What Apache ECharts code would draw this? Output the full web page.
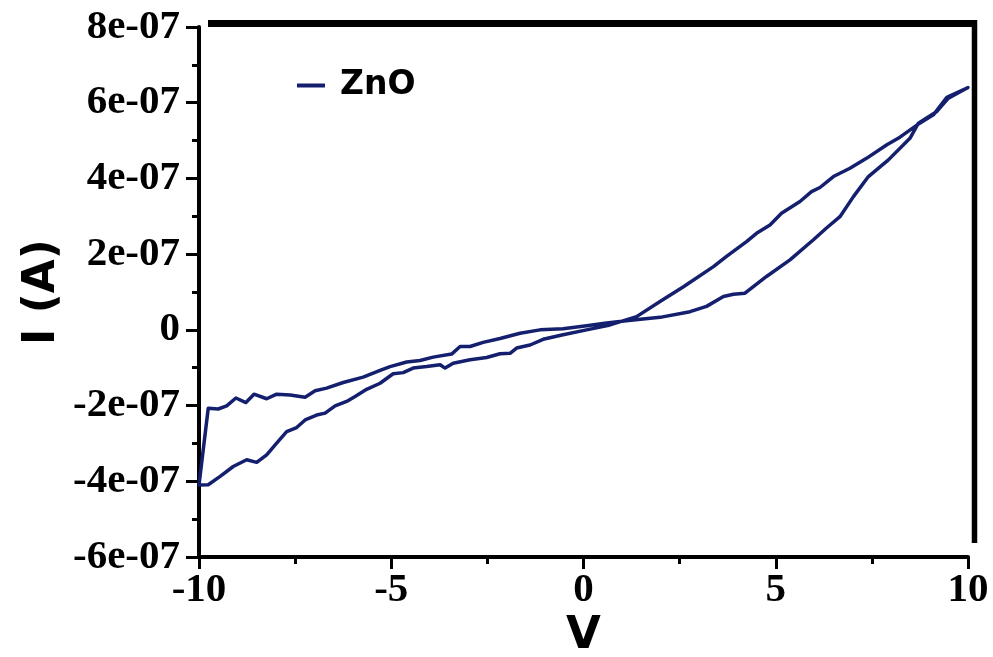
<!DOCTYPE html>
<html>
<head>
<meta charset="utf-8">
<script src="https://cdn.jsdelivr.net/npm/echarts@6/dist/echarts.min.js"></script>
<style>html,body{margin:0;padding:0;background:#fff}#chart{width:993px;height:657px}</style>
</head>
<body>
<div id="chart"></div>
<script>
// Sweep voltage (V) and measured current (A), in sweep order (closed hysteresis loop)
const voltage = [
  -10, -9.76, -9.50, -9.28, -9.04, -8.78, -8.57, -8.24, -7.98, -7.63,
  -7.24, -6.98, -6.68, -6.25, -5.73, -5.29, -5.03, -4.60, -4.25, -3.91,
  -3.43, -3.21, -2.95, -2.61, -2.17, -1.65, -1.13, -0.53, 0.08, 0.60,
  1.17, 1.99, 2.77, 3.20, 3.64, 3.90, 4.20, 4.76, 5.37, 5.98,
  6.32, 6.67, 7.02, 7.41, 7.93, 8.49, 8.71, 9.19, 9.49, 10.0,
  9.45, 9.10, 8.67, 8.23, 7.89, 7.36, 6.93, 6.50, 6.15, 5.93,
  5.63, 5.15, 4.85, 4.50, 4.24, 3.72, 3.38, 2.60, 1.99, 1.38,
  0.69, 0.08, -0.53, -1.05, -1.39, -1.74, -1.91, -2.17, -2.52, -2.95,
  -3.39, -3.60, -3.73, -4.08, -4.43, -4.69, -4.95, -5.29, -5.64, -5.94,
  -6.16, -6.46, -6.72, -6.94, -7.24, -7.46, -7.72, -7.98, -8.24, -8.50,
  -8.76, -9.11, -9.45, -9.76, -10
];
const current = [
  -4.10e-7, -2.07e-7, -2.09e-7, -2.01e-7, -1.80e-7, -1.92e-7, -1.70e-7, -1.82e-7, -1.70e-7, -1.72e-7,
  -1.78e-7, -1.61e-7, -1.54e-7, -1.39e-7, -1.25e-7, -1.07e-7, -0.97e-7, -0.85e-7, -0.81e-7, -0.72e-7,
  -0.64e-7, -0.44e-7, -0.44e-7, -0.33e-7, -0.23e-7, -0.09e-7, 0.00e-7, 0.03e-7, 0.11e-7, 0.18e-7,
  0.25e-7, 0.33e-7, 0.48e-7, 0.62e-7, 0.88e-7, 0.94e-7, 0.97e-7, 1.41e-7, 1.85e-7, 2.38e-7,
  2.69e-7, 2.99e-7, 3.52e-7, 4.05e-7, 4.49e-7, 5.06e-7, 5.46e-7, 5.77e-7, 6.12e-7, 6.40e-7,
  6.14e-7, 5.68e-7, 5.41e-7, 5.09e-7, 4.89e-7, 4.53e-7, 4.27e-7, 4.05e-7, 3.76e-7, 3.65e-7,
  3.39e-7, 3.08e-7, 2.77e-7, 2.55e-7, 2.33e-7, 1.94e-7, 1.67e-7, 1.14e-7, 0.75e-7, 0.35e-7,
  0.13e-7, 0.00e-7, -0.13e-7, -0.25e-7, -0.40e-7, -0.48e-7, -0.62e-7, -0.63e-7, -0.73e-7, -0.79e-7,
  -0.88e-7, -1.01e-7, -0.92e-7, -0.97e-7, -1.01e-7, -1.13e-7, -1.16e-7, -1.41e-7, -1.57e-7, -1.76e-7,
  -1.89e-7, -2.01e-7, -2.20e-7, -2.25e-7, -2.38e-7, -2.58e-7, -2.69e-7, -2.99e-7, -3.30e-7, -3.50e-7,
  -3.43e-7, -3.61e-7, -3.87e-7, -4.09e-7, -4.10e-7
];
const seriesName = 'ZnO';
const xTickValues = [-10, -5, 0, 5, 10];
const xTickLabels = ['-10', '-5', '0', '5', '10'];
const yTickValues = [-6e-7, -4e-7, -2e-7, 0, 2e-7, 4e-7, 6e-7, 8e-7];
const yTickLabels = ['-6e-07', '-4e-07', '-2e-07', '0', '2e-07', '4e-07', '6e-07', '8e-07'];

function lookup(values, labels, v) {
  let best = 0, bd = Infinity;
  values.forEach((t, i) => { const d = Math.abs(t - v); if (d < bd) { bd = d; best = i; } });
  return labels[best];
}

const lineColor = '#141f6e';
const tickFont = { fontFamily: 'Liberation Serif', fontWeight: 'bold', fontSize: 41, color: '#000' };

const chart = echarts.init(document.getElementById('chart'), null, { renderer: 'canvas' });
chart.setOption({
  animation: false,
  backgroundColor: '#fff',
  grid: { left: 199, right: 25, top: 27, bottom: 100, containLabel: false, outerBoundsMode: 'none' },
  legend: {
    data: [{ name: seriesName, icon: 'rect' }],
    left: 292, top: 64,
    itemWidth: 28, itemHeight: 4,
    itemStyle: { color: lineColor },
    textStyle: { fontFamily: 'DejaVu Sans', fontWeight: 'bold', fontSize: 33, color: '#000', padding: [0, 0, 0, 10] }
  },
  xAxis: {
    type: 'value', min: -10, max: 10, interval: 5,
    name: 'V', nameLocation: 'middle', nameGap: 57, nameMoveOverlap: false,
    nameTextStyle: { fontFamily: 'DejaVu Sans', fontWeight: 'bold', fontSize: 45, color: '#000', verticalAlign: 'top', lineHeight: 45 },
    axisLine: { show: true, onZero: false, lineStyle: { color: '#000', width: 4 } },
    axisTick: { show: true, inside: false, length: 12, lineStyle: { color: '#000', width: 3 } },
    minorTick: { show: true, splitNumber: 2, length: 7, lineStyle: { color: '#000', width: 3 } },
    splitLine: { show: false },
    axisLabel: Object.assign({ margin: 13, formatter: v => lookup(xTickValues, xTickLabels, v) }, tickFont)
  },
  yAxis: {
    type: 'value', min: -6e-7, max: 8e-7, interval: 2e-7,
    name: 'I (A)', nameLocation: 'middle', nameGap: 134, nameRotate: 90, nameMoveOverlap: false,
    nameTextStyle: { fontFamily: 'DejaVu Sans', fontWeight: 'bold', fontSize: 44, color: '#000' },
    axisLine: { show: true, onZero: false, lineStyle: { color: '#000', width: 4 } },
    axisTick: { show: true, inside: false, length: 13, lineStyle: { color: '#000', width: 3 } },
    minorTick: { show: true, splitNumber: 2, length: 7, lineStyle: { color: '#000', width: 3 } },
    splitLine: { show: false },
    axisLabel: Object.assign({ margin: 19, formatter: v => lookup(yTickValues, yTickLabels, v) }, tickFont)
  },
  graphic: [
    { type: 'line', shape: { x1: 208, y1: 23.5, x2: 977, y2: 23.5 }, style: { stroke: '#000', lineWidth: 7 }, z: 10 },
    { type: 'line', shape: { x1: 974.5, y1: 20, x2: 974.5, y2: 543 }, style: { stroke: '#000', lineWidth: 5.5 }, z: 10 }
  ],
  series: [{
    name: seriesName,
    type: 'line',
    data: voltage.map((v, i) => [v, current[i]]),
    symbol: 'none',
    showSymbol: false,
    clip: false,
    smooth: false,
    lineStyle: { color: lineColor, width: 3.5, join: 'round', cap: 'round' },
    itemStyle: { color: lineColor }
  }]
});
</script>
</body>
</html>
